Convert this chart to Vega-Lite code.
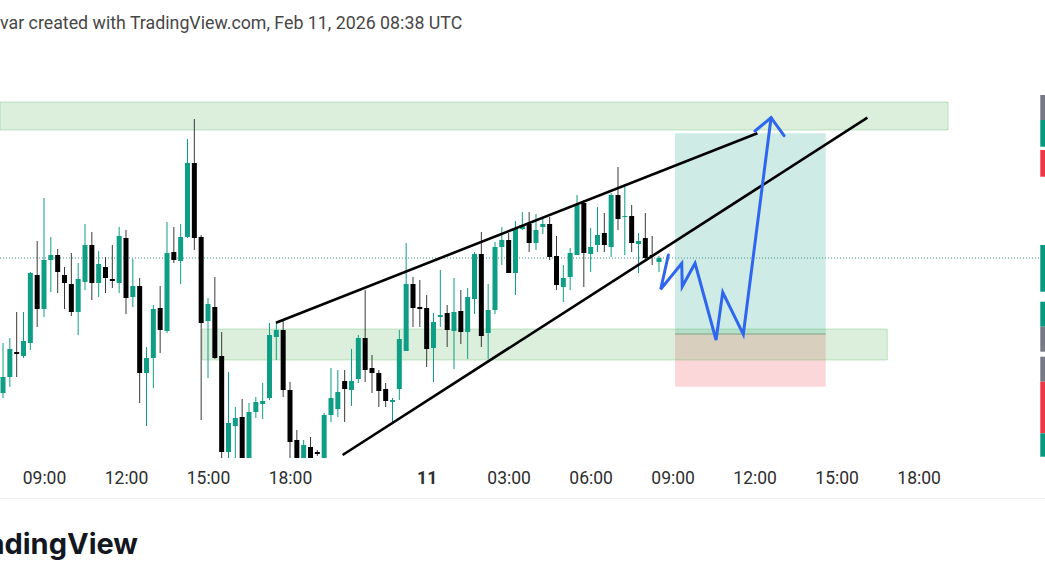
{
  "$schema": "https://vega.github.io/schema/vega-lite/v6.json",
  "width": 1045,
  "height": 416,
  "autosize": {"type": "none"},
  "padding": {"top": 42, "left": 0, "right": 0, "bottom": 130},
  "background": "white",
  "config": {"view": {"stroke": null}, "font": "Roboto"},
  "title": {
    "text": "var created with TradingView.com, Feb 11, 2026 08:38 UTC",
    "anchor": "start",
    "frame": "group",
    "font": "Roboto",
    "fontSize": 17.8,
    "fontWeight": "normal",
    "color": "#474747",
    "baseline": "alphabetic",
    "offset": 12,
    "dy": 17
  },
  "datasets": {
    "candles": [
      {"t": -6, "o": 5107, "h": 5157, "l": 5102, "c": 5123},
      {"t": -5, "o": 5123, "h": 5162, "l": 5113, "c": 5151},
      {"t": -4, "o": 5148, "h": 5188, "l": 5123, "c": 5146},
      {"t": -3, "o": 5144, "h": 5188, "l": 5142, "c": 5159},
      {"t": -2, "o": 5157, "h": 5228, "l": 5150, "c": 5227},
      {"t": -1, "o": 5225, "h": 5259, "l": 5173, "c": 5191},
      {"t": 0, "o": 5191, "h": 5302, "l": 5183, "c": 5240},
      {"t": 1, "o": 5240, "h": 5263, "l": 5208, "c": 5245},
      {"t": 2, "o": 5245, "h": 5251, "l": 5207, "c": 5228},
      {"t": 3, "o": 5225, "h": 5233, "l": 5191, "c": 5217},
      {"t": 4, "o": 5216, "h": 5247, "l": 5184, "c": 5188},
      {"t": 5, "o": 5188, "h": 5237, "l": 5165, "c": 5221},
      {"t": 6, "o": 5218, "h": 5276, "l": 5210, "c": 5255},
      {"t": 7, "o": 5255, "h": 5268, "l": 5200, "c": 5217},
      {"t": 8, "o": 5217, "h": 5249, "l": 5203, "c": 5236},
      {"t": 9, "o": 5233, "h": 5243, "l": 5207, "c": 5222},
      {"t": 10, "o": 5221, "h": 5255, "l": 5212, "c": 5219},
      {"t": 11, "o": 5217, "h": 5273, "l": 5207, "c": 5264},
      {"t": 12, "o": 5262, "h": 5270, "l": 5186, "c": 5202},
      {"t": 13, "o": 5203, "h": 5241, "l": 5193, "c": 5214},
      {"t": 14, "o": 5214, "h": 5222, "l": 5097, "c": 5127},
      {"t": 15, "o": 5127, "h": 5153, "l": 5074, "c": 5142},
      {"t": 16, "o": 5142, "h": 5195, "l": 5112, "c": 5191},
      {"t": 17, "o": 5192, "h": 5214, "l": 5147, "c": 5170},
      {"t": 18, "o": 5169, "h": 5278, "l": 5167, "c": 5247},
      {"t": 19, "o": 5248, "h": 5273, "l": 5237, "c": 5240},
      {"t": 20, "o": 5239, "h": 5276, "l": 5216, "c": 5263},
      {"t": 21, "o": 5263, "h": 5361, "l": 5262, "c": 5337},
      {"t": 22, "o": 5337, "h": 5381, "l": 5250, "c": 5262},
      {"t": 23, "o": 5263, "h": 5265, "l": 5080, "c": 5177},
      {"t": 24, "o": 5179, "h": 5202, "l": 5122, "c": 5196},
      {"t": 25, "o": 5193, "h": 5223, "l": 5141, "c": 5142},
      {"t": 26, "o": 5144, "h": 5168, "l": 5038, "c": 5048},
      {"t": 27, "o": 5048, "h": 5128, "l": 5038, "c": 5077},
      {"t": 28, "o": 5074, "h": 5093, "l": 5038, "c": 5082},
      {"t": 29, "o": 5083, "h": 5101, "l": 5038, "c": 5040},
      {"t": 30, "o": 5040, "h": 5097, "l": 5038, "c": 5088},
      {"t": 31, "o": 5088, "h": 5103, "l": 5082, "c": 5098},
      {"t": 32, "o": 5096, "h": 5117, "l": 5081, "c": 5099},
      {"t": 33, "o": 5102, "h": 5177, "l": 5100, "c": 5165},
      {"t": 34, "o": 5163, "h": 5178, "l": 5140, "c": 5170},
      {"t": 35, "o": 5170, "h": 5179, "l": 5103, "c": 5110},
      {"t": 36, "o": 5110, "h": 5118, "l": 5038, "c": 5058},
      {"t": 37, "o": 5060, "h": 5070, "l": 5038, "c": 5040},
      {"t": 38, "o": 5040, "h": 5060, "l": 5038, "c": 5055},
      {"t": 39, "o": 5053, "h": 5063, "l": 5038, "c": 5040},
      {"t": 40, "o": 5048, "h": 5050, "l": 5044, "c": 5046},
      {"t": 41, "o": 5040, "h": 5087, "l": 5038, "c": 5085},
      {"t": 42, "o": 5085, "h": 5132, "l": 5078, "c": 5102},
      {"t": 43, "o": 5091, "h": 5130, "l": 5083, "c": 5108},
      {"t": 44, "o": 5119, "h": 5130, "l": 5078, "c": 5111},
      {"t": 45, "o": 5110, "h": 5151, "l": 5094, "c": 5119},
      {"t": 46, "o": 5121, "h": 5165, "l": 5117, "c": 5162},
      {"t": 47, "o": 5162, "h": 5210, "l": 5118, "c": 5130},
      {"t": 48, "o": 5132, "h": 5145, "l": 5107, "c": 5127},
      {"t": 49, "o": 5127, "h": 5130, "l": 5093, "c": 5109},
      {"t": 50, "o": 5111, "h": 5117, "l": 5093, "c": 5099},
      {"t": 51, "o": 5098, "h": 5102, "l": 5078, "c": 5100},
      {"t": 52, "o": 5111, "h": 5170, "l": 5100, "c": 5161},
      {"t": 53, "o": 5149, "h": 5257, "l": 5149, "c": 5216},
      {"t": 54, "o": 5216, "h": 5223, "l": 5173, "c": 5192},
      {"t": 55, "o": 5193, "h": 5220, "l": 5173, "c": 5191},
      {"t": 56, "o": 5192, "h": 5205, "l": 5133, "c": 5151},
      {"t": 57, "o": 5152, "h": 5187, "l": 5118, "c": 5178},
      {"t": 58, "o": 5183, "h": 5230, "l": 5173, "c": 5185},
      {"t": 59, "o": 5187, "h": 5195, "l": 5153, "c": 5170},
      {"t": 60, "o": 5169, "h": 5222, "l": 5131, "c": 5188},
      {"t": 61, "o": 5189, "h": 5210, "l": 5156, "c": 5168},
      {"t": 62, "o": 5168, "h": 5212, "l": 5141, "c": 5203},
      {"t": 63, "o": 5201, "h": 5248, "l": 5186, "c": 5246},
      {"t": 64, "o": 5246, "h": 5268, "l": 5153, "c": 5164},
      {"t": 65, "o": 5167, "h": 5216, "l": 5141, "c": 5190},
      {"t": 66, "o": 5190, "h": 5258, "l": 5186, "c": 5253},
      {"t": 67, "o": 5253, "h": 5273, "l": 5235, "c": 5260},
      {"t": 68, "o": 5260, "h": 5267, "l": 5227, "c": 5227},
      {"t": 69, "o": 5227, "h": 5279, "l": 5205, "c": 5272},
      {"t": 70, "o": 5271, "h": 5288, "l": 5270, "c": 5275},
      {"t": 71, "o": 5276, "h": 5288, "l": 5248, "c": 5257},
      {"t": 72, "o": 5257, "h": 5286, "l": 5250, "c": 5270},
      {"t": 73, "o": 5273, "h": 5282, "l": 5266, "c": 5276},
      {"t": 74, "o": 5276, "h": 5283, "l": 5240, "c": 5243},
      {"t": 75, "o": 5244, "h": 5264, "l": 5210, "c": 5215},
      {"t": 76, "o": 5213, "h": 5235, "l": 5198, "c": 5222},
      {"t": 77, "o": 5223, "h": 5252, "l": 5210, "c": 5247},
      {"t": 78, "o": 5245, "h": 5305, "l": 5245, "c": 5295},
      {"t": 79, "o": 5297, "h": 5300, "l": 5213, "c": 5247},
      {"t": 80, "o": 5246, "h": 5272, "l": 5228, "c": 5253},
      {"t": 81, "o": 5255, "h": 5293, "l": 5248, "c": 5265},
      {"t": 82, "o": 5267, "h": 5287, "l": 5248, "c": 5255},
      {"t": 83, "o": 5253, "h": 5307, "l": 5243, "c": 5305},
      {"t": 84, "o": 5305, "h": 5333, "l": 5270, "c": 5281},
      {"t": 85, "o": 5283, "h": 5316, "l": 5245, "c": 5284},
      {"t": 86, "o": 5284, "h": 5295, "l": 5248, "c": 5257},
      {"t": 87, "o": 5256, "h": 5267, "l": 5227, "c": 5259},
      {"t": 88, "o": 5262, "h": 5287, "l": 5240, "c": 5242},
      {"t": 89, "o": 5245, "h": 5264, "l": 5235, "c": 5244},
      {"t": 90, "o": 5238, "h": 5244, "l": 5228, "c": 5242}
    ],
    "zones": [
      {"x1": -6.44, "x2": 132.3, "lo": 5370, "hi": 5398},
      {"x1": 23.1, "x2": 123.4, "lo": 5140, "hi": 5171}
    ],
    "position": [
      {"part": "profit", "x1": 92.35, "x2": 114.4, "lo": 5166, "hi": 5366.7},
      {"part": "stop", "x1": 92.35, "x2": 114.4, "lo": 5113.3, "hi": 5166}
    ],
    "entry": [{"x1": 92.35, "x2": 114.4, "p": 5166}],
    "trend": [
      {"id": "upper", "t": 33.95, "p": 5177.3},
      {"id": "upper", "t": 104.4, "p": 5366.7},
      {"id": "lower", "t": 43.7, "p": 5045},
      {"id": "lower", "t": 120.5, "p": 5382.3}
    ],
    "path": [
      {"id": "path", "k": 1, "t": 91.37, "p": 5245},
      {"id": "path", "k": 2, "t": 90.25, "p": 5210.7},
      {"id": "path", "k": 3, "t": 93.33, "p": 5236.7},
      {"id": "path", "k": 4, "t": 93.4, "p": 5213.3},
      {"id": "path", "k": 5, "t": 95.28, "p": 5236.7},
      {"id": "path", "k": 6, "t": 98.35, "p": 5160},
      {"id": "path", "k": 7, "t": 99.33, "p": 5207.7},
      {"id": "path", "k": 8, "t": 102.34, "p": 5165.7},
      {"id": "path", "k": 9, "t": 106.4, "p": 5382.3},
      {"id": "head", "k": 1, "t": 104.05, "p": 5369},
      {"id": "head", "k": 2, "t": 106.4, "p": 5382.3},
      {"id": "head", "k": 3, "t": 108.3, "p": 5364.3}
    ],
    "last": [{"p": 5242, "x1": -6.44, "x2": 145.8}],
    "tags": [
      {"kind": "neutral", "lo": 5380, "hi": 5405},
      {"kind": "up", "lo": 5353.3, "hi": 5380},
      {"kind": "down", "lo": 5323.3, "hi": 5350},
      {"kind": "up", "lo": 5208.3, "hi": 5255},
      {"kind": "up", "lo": 5173.3, "hi": 5198.3},
      {"kind": "neutral", "lo": 5148.3, "hi": 5173.3},
      {"kind": "neutral", "lo": 5118.3, "hi": 5143.3},
      {"kind": "down", "lo": 5066.7, "hi": 5118.3},
      {"kind": "up", "lo": 5043.3, "hi": 5066.7}
    ]
  },
  "layer": [
    {
      "data": {"name": "position"},
      "mark": {"type": "rect", "clip": true},
      "encoding": {
        "x": {"field": "x1", "type": "quantitative", "scale": {"domain": [-6.44, 146.49], "nice": false, "zero": false, "padding": 0},
          "title": "TradingView",
          "axis": {
            "orient": "bottom", "offset": 40, "domain": true, "domainColor": "#eceef2", "domainWidth": 1,
            "ticks": false, "grid": false,
            "values": [0, 12, 24, 36, 56, 68, 80, 92, 104, 116, 128],
            "labelExpr": "datum.value == 0 ? '09:00' : datum.value == 12 ? '12:00' : datum.value == 24 ? '15:00' : datum.value == 36 ? '18:00' : datum.value == 56 ? '11' : datum.value == 68 ? '03:00' : datum.value == 80 ? '06:00' : datum.value == 92 ? '09:00' : datum.value == 104 ? '12:00' : datum.value == 116 ? '15:00' : datum.value == 128 ? '18:00' : ''",
            "labelFont": "Roboto", "labelFontSize": 17.5, "labelColor": "#2e2e2e", "labelPadding": -29,
            "labelFontWeight": {"condition": {"test": "datum.value == 56", "value": "bold"}, "value": "normal"},
            "labelOverlap": false, "labelFlush": false, "labelBound": false,
            "titleFont": "Inter", "titleFontSize": 29, "titleFontWeight": "bold", "titleColor": "#131722",
            "titleAnchor": "start", "titleAlign": "left", "titleBaseline": "alphabetic", "titleX": -42, "titleY": 55
          }},
        "x2": {"field": "x2"},
        "y": {"field": "lo", "type": "quantitative", "scale": {"domain": [5042, 5458], "nice": false, "zero": false, "padding": 0}, "axis": null},
        "y2": {"field": "hi"},
        "color": {"condition": {"test": "datum.part == 'profit'", "value": "#089981"}, "value": "#f23645"},
        "opacity": {"value": 0.2}
      }
    },
    {
      "data": {"name": "entry"},
      "mark": {"type": "rule", "strokeWidth": 1, "color": "#8fa08f"},
      "encoding": {
        "x": {"field": "x1", "type": "quantitative", "title": "TradingView"},
        "x2": {"field": "x2"},
        "y": {"field": "p", "type": "quantitative", "axis": null}
      }
    },
    {
      "data": {"name": "zones"},
      "mark": {"type": "rect", "clip": true, "color": "#4caf50", "fillOpacity": 0.2, "stroke": "#4caf50", "strokeOpacity": 0.3, "strokeWidth": 1},
      "encoding": {
        "x": {"field": "x1", "type": "quantitative", "title": "TradingView"},
        "x2": {"field": "x2"},
        "y": {"field": "lo", "type": "quantitative", "axis": null},
        "y2": {"field": "hi"}
      }
    },
    {
      "data": {"name": "last"},
      "mark": {"type": "rule", "strokeWidth": 1, "strokeDash": [1, 2], "color": "#3f9486"},
      "encoding": {
        "x": {"field": "x1", "type": "quantitative", "title": "TradingView"},
        "x2": {"field": "x2"},
        "y": {"field": "p", "type": "quantitative", "axis": null}
      }
    },
    {
      "data": {"name": "candles"},
      "mark": {"type": "rule", "strokeWidth": 1, "clip": true},
      "encoding": {
        "x": {"field": "t", "type": "quantitative", "title": "TradingView"},
        "y": {"field": "l", "type": "quantitative", "axis": null},
        "y2": {"field": "h"},
        "color": {"condition": {"test": "datum.c >= datum.o", "value": "#0e9e85"}, "value": "#3a3a3a"}
      }
    },
    {
      "data": {"name": "candles"},
      "mark": {"type": "bar", "size": 5, "clip": true},
      "encoding": {
        "x": {"field": "t", "type": "quantitative", "title": "TradingView"},
        "y": {"field": "o", "type": "quantitative", "axis": null},
        "y2": {"field": "c"},
        "color": {"condition": {"test": "datum.c >= datum.o", "value": "#0e9e85"}, "value": "#000000"}
      }
    },
    {
      "data": {"name": "trend"},
      "mark": {"type": "line", "strokeWidth": 2.6, "color": "#000000", "clip": true},
      "encoding": {
        "x": {"field": "t", "type": "quantitative", "title": "TradingView"},
        "y": {"field": "p", "type": "quantitative", "axis": null},
        "detail": {"field": "id"}
      }
    },
    {
      "data": {"name": "path"},
      "mark": {"type": "line", "strokeWidth": 3, "color": "#2f66f0", "strokeJoin": "miter", "strokeCap": "round"},
      "encoding": {
        "x": {"field": "t", "type": "quantitative", "title": "TradingView"},
        "y": {"field": "p", "type": "quantitative", "axis": null},
        "detail": {"field": "id"},
        "order": {"field": "k"}
      }
    },
    {
      "data": {"name": "tags"},
      "mark": {"type": "rect", "clip": true},
      "encoding": {
        "x": {"datum": 145.8, "type": "quantitative", "title": "TradingView"},
        "x2": {"datum": 146.49},
        "y": {"field": "lo", "type": "quantitative", "axis": null},
        "y2": {"field": "hi"},
        "color": {"condition": [{"test": "datum.kind == 'up'", "value": "#089981"}, {"test": "datum.kind == 'down'", "value": "#f23645"}], "value": "#787b86"}
      }
    }
  ]
}
